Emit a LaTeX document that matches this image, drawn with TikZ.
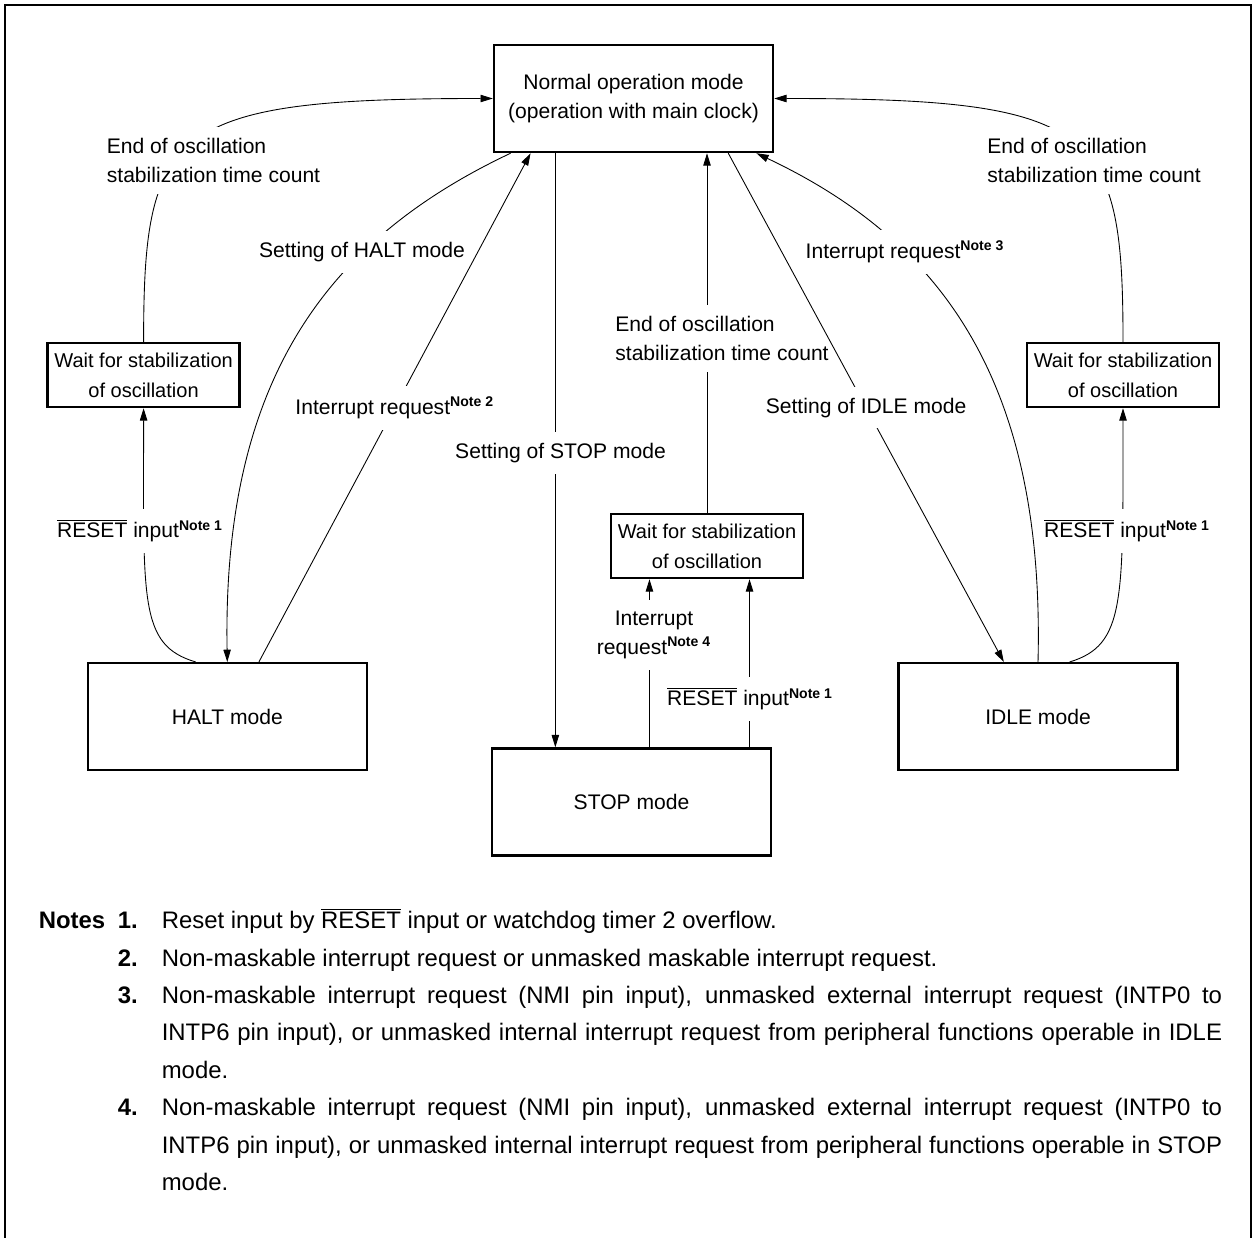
\documentclass[tikz,border=0pt]{standalone}
\usepackage{fontspec}
\setmainfont{Liberation Sans}
\usetikzlibrary{arrows.meta}
\newcommand{\rstbar}{$\overline{\mbox{RESET}}$}
\newcommand{\notesup}[1]{\textsuperscript{\bfseries Note #1}}

\begin{document}
\begin{tikzpicture}[x=0.02cm, y=-0.02cm, font=\fontsize{12}{16.5}\selectfont,
    mode box/.style={draw, line width=1.4pt, minimum width=5.58cm, minimum height=2.14cm, align=center},
    wait box/.style={draw, line width=1.4pt, minimum width=3.84cm, minimum height=1.28cm, inner sep=1pt, align=center,
        font=\fontsize{11.4}{17}\selectfont},
    label node/.style={fill=white, inner xsep=1pt, inner ysep=0.22cm},
    trans/.style={line width=0.5pt, -{Triangle[length=7pt,width=4.2pt]}}]
    \useasboundingbox (0,0) rectangle (1256,1237);
    \draw[line width=1.4pt] (5,1240) -- (5,5) -- (1251,5) -- (1251,1240);

    \node[mode box] (normal) at (633.5,98.5) {Normal operation mode\\(operation with main clock)};
    \node[wait box] (waitL) at (143.6,375) {Wait for stabilization\\of oscillation};
    \node[wait box] (waitR) at (1123,375) {Wait for stabilization\\of oscillation};
    \node[wait box] (waitM) at (707,546) {Wait for stabilization\\of oscillation};
    \node[mode box] (halt) at (227.3,716.7) {HALT mode};
    \node[mode box] (stop) at (631.5,802) {STOP mode};
    \node[mode box] (idle) at (1038,716.7) {IDLE mode};

    \draw[trans] (waitL.north) .. controls +(0,-213) and +(-324,0) .. (normal.west);
    \draw[trans] (waitR.north) .. controls +(0,-213) and +(324,0) .. (normal.east);
    \draw[trans] (waitM.north) -- (waitM.north |- normal.south);
    \draw[trans] (normal.204) .. controls +(-184,87) and +(-5,-282) .. (halt.north);
    \draw[trans] (halt.120) .. controls +(-57,-17) and +(0,193) .. (waitL.south);
    \draw[trans] (normal.215) -- (normal.215 |- stop.north);
    \draw[trans] (waitM.210 |- stop.north) -- (waitM.210);
    \draw[trans] (waitM.322 |- stop.north) -- (waitM.322);
    \draw[trans] (idle.60) .. controls +(56,-17) and +(0,193) .. (waitR.south);
    \draw[trans] (idle.north) .. controls +(7,-282) and +(184,87) .. (normal.336);

    \node[label node, align=left] (endL) at (213.5,160.5) {End of oscillation\\stabilization time count};
    \node[label node, align=left] (endR) at (1094,160.5) {End of oscillation\\stabilization time count};
    \node[label node, align=left] (endM) at (722,338.5) {End of oscillation\\stabilization time count};
    \node[label node] (haltset) at (362,252) {Setting of HALT mode};
    \node[label node] (stopset) at (560.5,453) {Setting of STOP mode};
    \node[label node] (intIdle) at (905,252) {Interrupt request\notesup{3}};
    \node[label node] (rstL) at (140,531) {\rstbar{} input\notesup{1}};
    \node[label node] (rstR) at (1127,531) {\rstbar{} input\notesup{1}};
    \node[label node] (rstM) at (750,699) {\rstbar{} input\notesup{1}};
    \node[label node, align=center] (intStop) at (654,635) {Interrupt\\request\notesup{4}};

    \draw[trans] (halt.60) -- node[label node, pos=0.5] (intHalt) {Interrupt request\notesup{2}} (normal.208);
    \draw[trans] (normal.330) -- node[label node, pos=0.5] (idleset) {Setting of IDLE mode} (idle.122);

    \node[anchor=base west, inner sep=0pt, text width=23.67cm, align=justify,
        font=\fontsize{13.6}{21.34}\selectfont] (notes) at (38.5,928.5) {%
        \hangindent=2.46cm\hangafter=1\noindent\makebox[2.46cm][l]{\bfseries Notes\hfill 1.\hspace{0.48cm}}Reset input by \rstbar{} input or watchdog timer 2 overflow.\par
        \hangindent=2.46cm\hangafter=1\noindent\makebox[2.46cm][r]{\bfseries 2.\hspace{0.48cm}}Non-maskable interrupt request or unmasked maskable interrupt request.\par
        \hangindent=2.46cm\hangafter=1\noindent\makebox[2.46cm][r]{\bfseries 3.\hspace{0.48cm}}Non-maskable interrupt request (NMI pin input), unmasked external interrupt request (INTP0 to\linebreak INTP6 pin input), or unmasked internal interrupt request from peripheral functions operable in IDLE\linebreak mode.\par
        \hangindent=2.46cm\hangafter=1\noindent\makebox[2.46cm][r]{\bfseries 4.\hspace{0.48cm}}Non-maskable interrupt request (NMI pin input), unmasked external interrupt request (INTP0 to\linebreak INTP6 pin input), or unmasked internal interrupt request from peripheral functions operable in STOP\linebreak mode.\par};
\end{tikzpicture}
\end{document}
